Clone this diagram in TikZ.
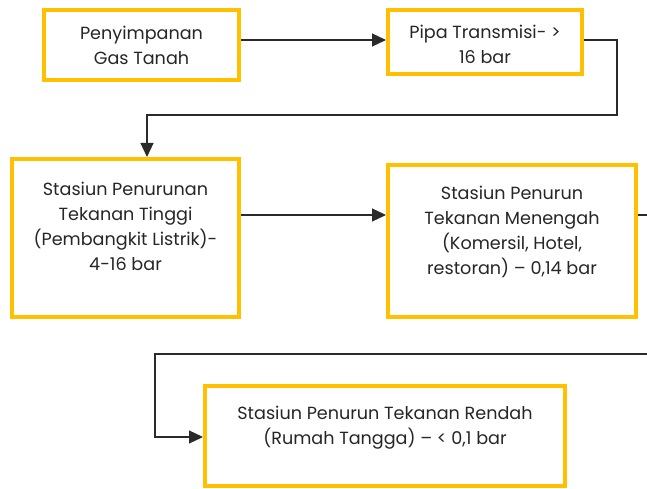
\documentclass[tikz,border=0pt]{standalone}
\usepackage{fontspec}
\setmainfont{Poppins}
\usetikzlibrary{arrows.meta}
\definecolor{boxyellow}{HTML}{FFC000}
\definecolor{inkgray}{HTML}{262626}
\definecolor{linegray}{HTML}{2A2A2A}
\begin{document}
\begin{tikzpicture}[x=1pt,y=-1pt,
  stagebox/.style={draw=boxyellow, line width=4pt, fill=white, inner sep=0pt},
  stagetext/.style={anchor=north, align=center, text=inkgray, inner sep=0pt,
    font=\fontsize{17.6}{25}\selectfont},
  flow/.style={draw=linegray, line width=1.2pt, -{Triangle[length=14pt,width=13pt]}}]
\useasboundingbox (0,0) rectangle (647,489);

% stage boxes
\node[stagebox, minimum width=195pt, minimum height=70pt] (b1) at (141.5,45) {};
\node[stagebox, minimum width=194pt, minimum height=64pt] (b2) at (485,42) {};
\node[stagebox, minimum width=227pt, minimum height=158pt] (b3) at (125.5,238) {};
\node[stagebox, minimum width=248pt, minimum height=152pt] (b4) at (512,241) {};
\node[stagebox, minimum width=360pt, minimum height=100pt] (b5) at (385,436) {};

% box texts, set from the top edge of each box
\node[stagetext] (t1) at ([yshift=-18pt]b1.north) {Penyimpanan\\Gas Tanah};
\node[stagetext] (t2) at ([yshift=-17pt]b2.north) {Pipa Transmisi- >\\16 bar};
\node[stagetext] (t3) at ([yshift=-25pt]b3.north) {Stasiun Penurunan\\Tekanan Tinggi\\(Pembangkit Listrik)-\\4-16 bar};
\node[stagetext] (t4) at ([yshift=-23pt]b4.north) {Stasiun Penurun\\Tekanan Menengah\\(Komersil, Hotel,\\restoran) – 0,14 bar};
\node[stagetext] (t5) at ([yshift=-22pt]b5.north) {Stasiun Penurun Tekanan Rendah\\(Rumah Tangga) – < 0,1 bar};

% routing points
\coordinate (r1) at (0,40);
\coordinate (r2) at (0,215);
\coordinate (k1) at (617,115);
\coordinate (k2) at (147,115);
\coordinate (k3) at (662,354);
\coordinate (k4) at (155,354);
\coordinate (k5) at (0,437);

% connectors
\draw[flow] (b1.east |- r1) -- (b2.west |- r1);
\draw[flow] (b2.east |- r1) -| (k1) -- (k2) -- (k2 |- b3.north);
\draw[flow] (b3.east |- r2) -- (b4.west |- r2);
\draw[flow] (b4.east |- r2) -| (k3) -- (k4) -- (k4 |- k5) -- (b5.west |- k5);
\end{tikzpicture}
\end{document}
